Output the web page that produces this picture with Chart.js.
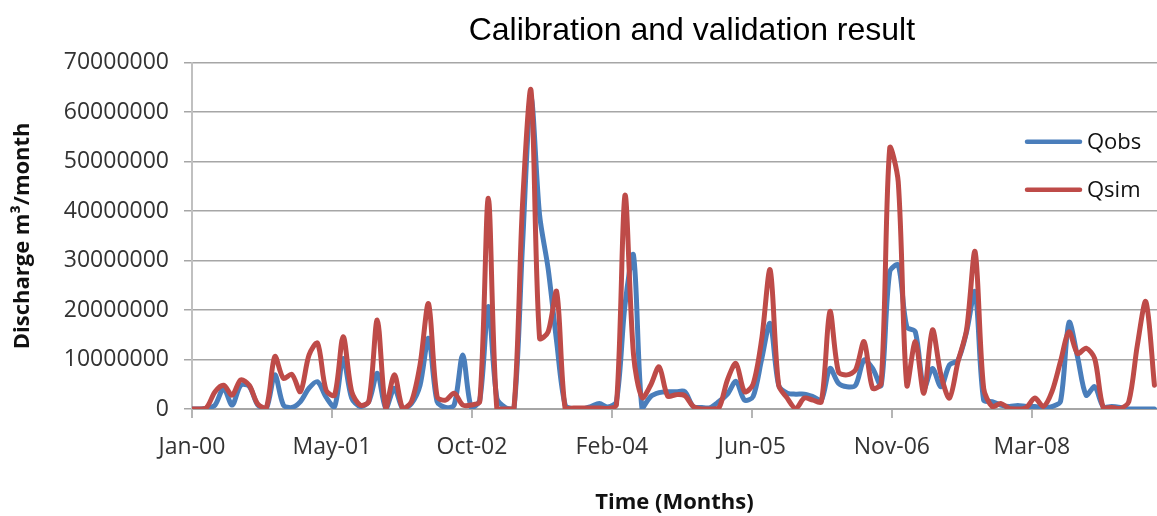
<!DOCTYPE html>
<html>
<head>
<meta charset="utf-8">
<script src="https://cdn.jsdelivr.net/npm/chart.js@4.4.0/dist/chart.umd.min.js"></script>
<style>
html,body{margin:0;padding:0;background:#ffffff;}
#wrap{width:1157px;height:516px;}
</style>
</head>
<body>
<div id="wrap"><canvas id="c" width="1157" height="516"></canvas></div>
<script>
// Month categories: Jan-00 ... Jun-09 (index = months since Jan-00)
const monthNames = ['Jan','Feb','Mar','Apr','May','Jun','Jul','Aug','Sep','Oct','Nov','Dec'];
const categories = [];
for (let y = 0; y < 10; y++) {
  for (let m = 0; m < 12; m++) {
    if (categories.length < 114) categories.push(monthNames[m] + '-' + String(y).padStart(2, '0'));
  }
}

// Discharge, millions of m3/month
const qobs = [
  0, 0, 0.1, 0.8, 4.2, 0.8, 4.8, 4.6, 0.8, 0.1,
  6.9, 0.8, 0.3, 1.5, 4.2, 5.5, 2.4, 0.5, 10.2, 2.2,
  0.5, 1.5, 7.2, 0.1, 4.2, 0, 1.1, 4.8, 14.3, 1.5,
  0.3, 0.8, 10.9, 0.3, 1.8, 20.7, 2.2, 0.3, 0, 33,
  62.8, 39.2, 28.4, 13.6, 0.8, 0, 0, 0.5, 1.1, 0.4,
  1.5, 21, 31.1, 0, 2.5, 3.3, 3.5, 3.5, 3.5, 0.5,
  0.3, 0.3, 1.5, 3.0, 5.6, 1.8, 2.5, 10, 17.3, 4.8,
  3.2, 3.0, 3.0, 2.5, 1.8, 8.2, 5.2, 4.5, 4.8, 9.9,
  8.2, 4.8, 27.7, 29.1, 16.6, 15.6, 4.2, 8.2, 4.5, 8.9,
  9.9, 15.6, 23.7, 1.8, 1.5, 0.8, 0.5, 0.7, 0.5, 0.5,
  0.3, 0.5, 1.5, 17.5, 10.5, 2.8, 4.5, 0.5, 0.5, 0.3,
  0, 0, 0, 0
];
const qsim = [
  0, 0, 0.3, 3.5, 4.8, 2.8, 5.9, 4.8, 1.0, 0.2,
  10.6, 6.2, 7.0, 3.5, 10.9, 13.3, 3.8, 2.8, 14.6, 3.5,
  0.8, 1.5, 18.0, 0.1, 6.9, 0, 1.5, 8.9, 21.3, 2.5,
  1.8, 3.2, 0.8, 0.8, 1.5, 42.6, 0, 0, 0, 41.2,
  64.4, 14.3, 15.6, 23.7, 0, 0.2, 0.2, 0.2, 0.2, 0.1,
  0.8, 43.2, 11, 2.3, 4.8, 8.5, 2.6, 2.9, 2.7, 0.5,
  0, 0, 0.2, 5.9, 9.2, 3.5, 5.0, 14, 28.1, 4.8,
  2.2, 0.1, 2.2, 1.8, 1.5, 19.7, 7.5, 6.9, 7.9, 13.6,
  4.2, 5.2, 52.7, 45.9, 4.8, 13.6, 3.2, 16, 6.9, 2.2,
  9.6, 16, 31.8, 4.2, 0.5, 1.1, 0.1, 0, 0.3, 2.2,
  0.5, 3.5, 9.6, 15.6, 11.2, 12.3, 10.2, 0.3, 0.3, 0.1,
  1.5, 12.9, 21.7, 4.8
];

const xTickLabels = ['Jan-00', 'May-01', 'Oct-02', 'Feb-04', 'Jun-05', 'Nov-06', 'Mar-08'];
const yTickValues = [0, 10, 20, 30, 40, 50, 60, 70];
const chartTitle = 'Calibration and validation result';

// axis settings (in month units)
const xMin = 0.3, xMax = 113.3, xTickStep = 16.39;

const toPoints = arr => arr.map((v, i) => ({ x: i, y: v }));

const titlePlugin = {
  id: 'topTitle',
  afterDraw(chart) {
    const ctx = chart.ctx;
    const ca = chart.chartArea;
    ctx.save();
    ctx.fillStyle = '#000000';
    ctx.font = '32px "Liberation Sans", Arial, sans-serif';
    ctx.textAlign = 'center';
    ctx.textBaseline = 'alphabetic';
    ctx.fillText(chartTitle, ca.left + ca.width * 0.518, ca.top - 23);
    ctx.restore();
  }
};

const legendPlugin = {
  id: 'sideLegend',
  afterDraw(chart) {
    const ctx = chart.ctx;
    const ca = chart.chartArea;
    ctx.save();
    chart.data.datasets.forEach((ds, k) => {
      const y = ca.top + 79 + k * 48;
      const x0 = ca.right - 130;
      ctx.strokeStyle = ds.borderColor;
      ctx.lineWidth = 4.5;
      ctx.lineCap = 'round';
      ctx.beginPath();
      ctx.moveTo(x0, y);
      ctx.lineTo(x0 + 53, y);
      ctx.stroke();
      ctx.fillStyle = '#111111';
      ctx.font = '22px "Open Sans"';
      ctx.textBaseline = 'middle';
      ctx.textAlign = 'left';
      ctx.fillText(ds.label, x0 + 60, y + 1);
    });
    ctx.restore();
  }
};

new Chart(document.getElementById('c'), {
  type: 'line',
  data: {
    labels: categories,
    datasets: [
      { label: 'Qobs', data: toPoints(qobs), borderColor: '#4A7EBB', backgroundColor: '#4A7EBB',
        borderWidth: 5, pointRadius: 0, tension: 0.3, borderJoinStyle: 'round', borderCapStyle: 'round', order: 2, fill: false },
      { label: 'Qsim', data: toPoints(qsim), borderColor: '#BE4B48', backgroundColor: '#BE4B48',
        borderWidth: 5, pointRadius: 0, tension: 0.3, borderJoinStyle: 'round', borderCapStyle: 'round', order: 1, fill: false }
    ]
  },
  options: {
    responsive: false,
    animation: false,
    events: [],
    layout: { padding: { left: 0, right: 0, top: 62.7, bottom: 0 } },
    plugins: {
      legend: { display: false },
      tooltip: { enabled: false },
      title: { display: false }
    },
    scales: {
      x: {
        type: 'linear',
        min: xMin,
        max: xMax,
        afterFit: s => { s.height = 107; },
        afterBuildTicks: axis => {
          axis.ticks = xTickLabels.map((_, k) => ({ value: xMin + k * xTickStep }));
        },
        ticks: {
          autoSkip: false,
          maxRotation: 0,
          minRotation: 0,
          padding: 16,
          color: '#333333',
          font: { family: '"Open Sans", sans-serif', size: 23 },
          callback: (v, idx) => xTickLabels[idx]
        },
        grid: { drawOnChartArea: false, drawTicks: true, tickLength: 9, color: '#b5b5b5', lineWidth: 2 },
        border: { display: true, color: '#a6a6a6', width: 2 },
        title: {
          display: true,
          text: 'Time (Months)',
          color: '#111111',
          font: { family: '"Open Sans", sans-serif', size: 22, weight: 'bold', lineHeight: 1.2 },
          padding: { top: 3, bottom: 0 }
        }
      },
      y: {
        type: 'linear',
        min: 0,
        max: 70,
        afterFit: s => { s.width = 192; },
        afterBuildTicks: axis => {
          axis.ticks = yTickValues.map(v => ({ value: v }));
        },
        ticks: {
          padding: 15,
          color: '#333333',
          font: { family: '"Open Sans", sans-serif', size: 23 },
          callback: v => String(Math.round(v * 1000000))
        },
        grid: { drawOnChartArea: true, drawTicks: true, tickLength: 8, color: '#a6a6a6', lineWidth: 1.5 },
        border: { display: true, color: '#c0c0c0', width: 2 },
        title: {
          display: true,
          text: 'Discharge m³/month',
          color: '#111111',
          font: { family: '"Open Sans", sans-serif', size: 22, weight: 'bold', lineHeight: 1.2 },
          padding: { top: 10, bottom: 0 }
        }
      }
    }
  },
  plugins: [titlePlugin, legendPlugin]
});
</script>
</body>
</html>
